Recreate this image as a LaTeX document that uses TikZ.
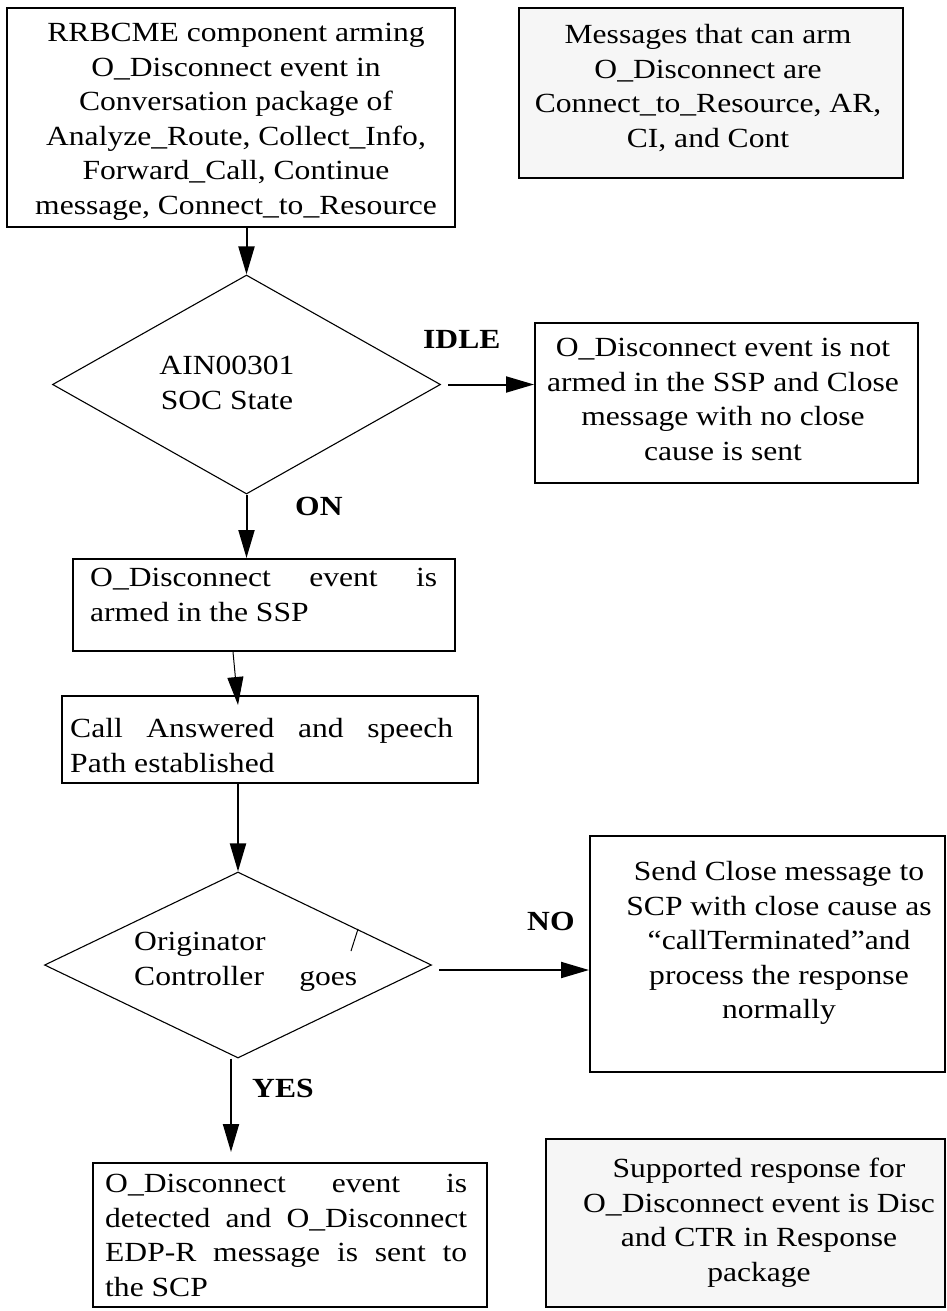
\documentclass[tikz,border=0pt]{standalone}
\usepackage{fontspec}
\setmainfont{Liberation Serif}[FakeStretch=1.14]
\usetikzlibrary{arrows.meta,shapes.geometric,calc}
\newcommand\dgfont{\fontsize{27.7pt}{34.6pt}\selectfont}
\definecolor{panel}{RGB}{246,246,246}
\begin{document}
\begin{tikzpicture}[x=1pt,y=-1pt,
  box/.style={draw, line width=2pt, inner sep=0pt},
  notebox/.style={box, fill=panel},
  dia/.style={diamond, draw, line width=1.1pt, inner sep=0pt},
  txt/.style={inner sep=0pt, font=\dgfont},
  lbl/.style={inner sep=0pt, font=\dgfont\bfseries, anchor=base west},
  arr/.style={line width=2pt, -{Triangle[length=28pt,width=16pt]}},
  thinarr/.style={line width=1pt, -{Triangle[length=28pt,width=16pt]}}]
\useasboundingbox (0,0) rectangle (947,1311);

% frames
\node[box, minimum width=448pt, minimum height=219pt] (b1) at (231,117.5) {};
\node[notebox, minimum width=384pt, minimum height=170pt] (b2) at (711,93) {};
\node[dia, minimum width=388pt, minimum height=219pt] (d1) at (246.5,384.5) {};
\node[box, minimum width=383pt, minimum height=160pt] (bI) at (726.5,403) {};
\node[box, minimum width=382pt, minimum height=92pt] (b3) at (264,605) {};
\node[box, minimum width=416pt, minimum height=87pt] (b4) at (270,739.5) {};
\node[dia, minimum width=387pt, minimum height=186pt] (d2) at (238,965) {};
\node[box, minimum width=355pt, minimum height=236pt] (bN) at (767.5,954) {};
\node[box, minimum width=394pt, minimum height=144pt] (b5) at (290,1235) {};
\node[notebox, minimum width=399pt, minimum height=168pt] (bS) at (745.5,1223) {};

% texts
\node[txt, align=center, anchor=north] (t1) at (236,23) {RRBCME component arming\\O\_Disconnect event in\\Conversation package of\\Analyze\_Route, Collect\_Info,\\Forward\_Call, Continue\\message, Connect\_to\_Resource};
\node[txt, align=center, anchor=north] (t2) at (708,24) {Messages that can arm\\O\_Disconnect are\\Connect\_to\_Resource, AR,\\CI, and Cont};
\node[txt, align=center, anchor=north] (tD1) at (227,356) {AIN00301\\SOC State};
\node[txt, align=center, anchor=north] (tI) at (723,338) {O\_Disconnect event is not\\armed in the SSP and Close\\message with no close\\cause is sent};
\node[txt, align=left, anchor=north west] (t3) at (90,568) {\makebox[347pt][s]{O\_Disconnect event is}\\armed in the SSP};
\node[txt, align=left, anchor=north west] (t4) at (70,718) {\makebox[383pt][s]{Call Answered and speech}\\Path established};
\node[txt, align=left, anchor=north west] (tD2) at (134,932) {Originator\\\makebox[223pt][s]{Controller goes}};
\node[txt, align=center, anchor=north] (tN) at (779,861) {Send Close message to\\SCP with close cause as\\“callTerminated”and\\process the response\\normally};
\node[txt, align=left, anchor=north west] (t5) at (105,1174) {\makebox[362pt][s]{O\_Disconnect event is}\\\makebox[362pt][s]{detected and O\_Disconnect}\\\makebox[362pt][s]{EDP-R message is sent to}\\the SCP};
\node[txt, align=center, anchor=north] (tS) at (759,1158) {Supported response for\\O\_Disconnect event is Disc\\and CTR in Response\\package};

% branch labels
\node[lbl] (lIdle) at (423,348) {IDLE};
\node[lbl] (lOn) at (295,515) {ON};
\node[lbl] (lNo) at (527,930) {NO};
\node[lbl] (lYes) at (252,1097) {YES};

% stray stroke inside the second decision
\draw[line width=1pt] (358,929) -- (351,951);

% connectors
\draw[arr] (b1.south -| d1.north) -- (d1.north);
\draw[arr] ($(d1.east)+(7,0)$) -- (d1.east -| bI.west);
\draw[arr] (d1.south) -- (d1.south |- b3.north);
\draw[thinarr] ($(b3.south)+(-31,0)$) -- ($(b4.north)+(-32,10)$);
\draw[arr] (b4.south -| d2.north) -- (d2.north);
\draw[arr] ($(d2.east)+(7,5)$) -- ($(d2.east -| bN.west)+(0,5)$);
\draw[arr] ($(d2.south)+(-7,0)$) -- ($(d2.south |- b5.north)+(-7,-10)$);
\end{tikzpicture}
\end{document}
